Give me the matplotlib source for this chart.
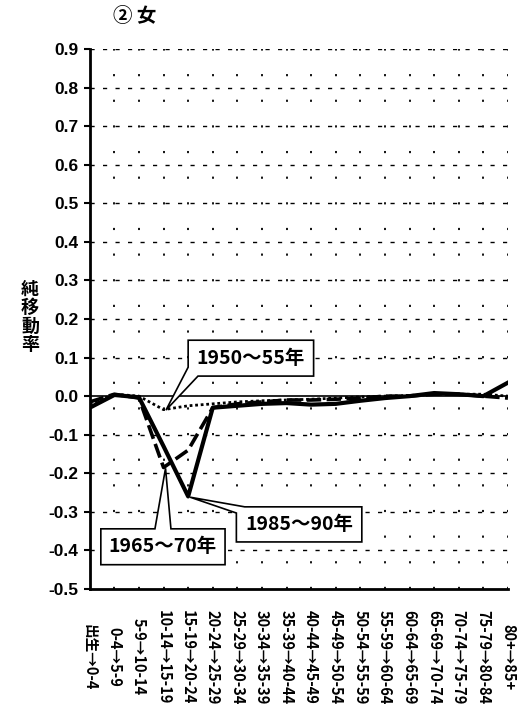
import matplotlib
matplotlib.use("Agg")
import matplotlib.pyplot as plt
from matplotlib.patches import Polygon

plt.rcParams['font.family'] = ['Noto Sans CJK JP', 'DejaVu Sans']

categories = ["出生→0-4", "0-4→5-9", "5-9→10-14", "10-14→15-19", "15-19→20-24",
              "20-24→25-29", "25-29→30-34", "30-34→35-39", "35-39→40-44",
              "40-44→45-49", "45-49→50-54", "50-54→55-59", "55-59→60-64",
              "60-64→65-69", "65-69→70-74", "70-74→75-79", "75-79→80-84", "80+→85+"]

s1950 = [-0.02, 0.005, 0.0, -0.035, -0.025, -0.02, -0.015, -0.012, -0.01, -0.008,
         -0.005, -0.002, 0.0, 0.002, 0.005, 0.005, 0.005, 0.0]
s1965 = [-0.015, 0.005, -0.005, -0.185, -0.14, -0.03, -0.02, -0.015, -0.01, -0.01,
         -0.008, -0.005, 0.0, 0.0, 0.005, 0.005, 0.0, -0.005]
s1985 = [-0.03, 0.003, -0.003, -0.13, -0.26, -0.03, -0.025, -0.02, -0.018, -0.022,
         -0.02, -0.012, -0.005, 0.0, 0.008, 0.005, 0.0, 0.035]

yticks = [0.9, 0.8, 0.7, 0.6, 0.5, 0.4, 0.3, 0.2, 0.1, 0.0, -0.1, -0.2, -0.3, -0.4, -0.5]

fig = plt.figure(figsize=(5.28, 7.07), dpi=100)
ax = fig.add_axes([0.170, 0.1669, 0.792, 0.7638])

x = list(range(len(categories)))
ax.set_xlim(0, len(categories) - 1)
ax.set_ylim(-0.5, 0.9)

# grid
for xi in x[1:]:
    ax.axvline(xi, color='black', lw=1.3, linestyle=(0, (1.2, 13)), zorder=1)
for yv in yticks:
    if abs(yv) > 1e-9 and yv > -0.5:
        ax.axhline(yv, color='black', lw=1.0, linestyle=(0, (3, 6)), zorder=1)
ax.axhline(0, color='black', lw=1.2, zorder=2)

ax.plot(x, s1950, color='black', lw=2.0, linestyle=(0, (1, 1)), zorder=3)
ax.plot(x, s1965, color='black', lw=2.6, linestyle=(0, (4, 1.5)), zorder=3)
ax.plot(x, s1985, color='black', lw=3.0, linestyle='-', zorder=4)

ax.set_yticks(yticks)
ax.set_yticklabels([f"{v:.1f}" for v in yticks], fontsize=12.5, fontweight='bold',
                   family=['Liberation Sans', 'DejaVu Sans'])
ax.set_xticks(x)
ax.set_xticklabels(categories, rotation=-90, fontsize=10.5, fontweight='bold',
                   va='center', ha='center')
ax.tick_params(axis='x', length=0, pad=49)
ax.tick_params(axis='y', length=4, width=1.5, direction='out', pad=4)
for side in ['top', 'right']:
    ax.spines[side].set_visible(False)
for side in ['left', 'bottom']:
    ax.spines[side].set_linewidth(2.0)

# 1950~55: wedge at bottom-left corner
b = (4.0, 9.1, 0.052, 0.145)
pts = [(b[0], b[3]), (b[1], b[3]), (b[1], b[2]), (4.4, b[2]), (3.1, -0.036), (b[0], 0.075), (b[0], b[3])]
ax.add_patch(Polygon(pts, closed=True, fc='white', ec='black', lw=1.2, zorder=6))
ax.text((b[0] + b[1]) / 2, (b[2] + b[3]) / 2, "1950～55年", ha='center', va='center',
        fontsize=14, fontweight='bold', zorder=7)

# 1985~90: wedge at top-left corner
b = (5.96, 11.06, -0.378, -0.287)
pts = [(b[0], b[2]), (b[0], -0.303), (4.08, -0.262), (6.3, b[3]), (b[1], b[3]), (b[1], b[2]), (b[0], b[2])]
ax.add_patch(Polygon(pts, closed=True, fc='white', ec='black', lw=1.2, zorder=6))
ax.text((b[0] + b[1]) / 2, (b[2] + b[3]) / 2, "1985～90年", ha='center', va='center',
        fontsize=14, fontweight='bold', zorder=7)

# 1965~70: wedge on top edge
b = (0.45, 5.5, -0.437, -0.344)
pts = [(b[0], b[2]), (b[0], b[3]), (2.65, b[3]), (3.08, -0.187), (3.3, b[3]), (b[1], b[3]), (b[1], b[2]), (b[0], b[2])]
ax.add_patch(Polygon(pts, closed=True, fc='white', ec='black', lw=1.2, zorder=6))
ax.text((b[0] + b[1]) / 2, (b[2] + b[3]) / 2, "1965～70年", ha='center', va='center',
        fontsize=14, fontweight='bold', zorder=7)

fig.text(135 / 528, 1 - 17 / 707, "② 女", ha='center', va='center', fontsize=14, fontweight='bold')
fig.text(30 / 528, 1 - 317 / 707, "純\n移\n動\n率", ha='center', va='center', fontsize=13,
         fontweight='bold', linespacing=0.95)

fig.savefig("out.png", dpi=100)
